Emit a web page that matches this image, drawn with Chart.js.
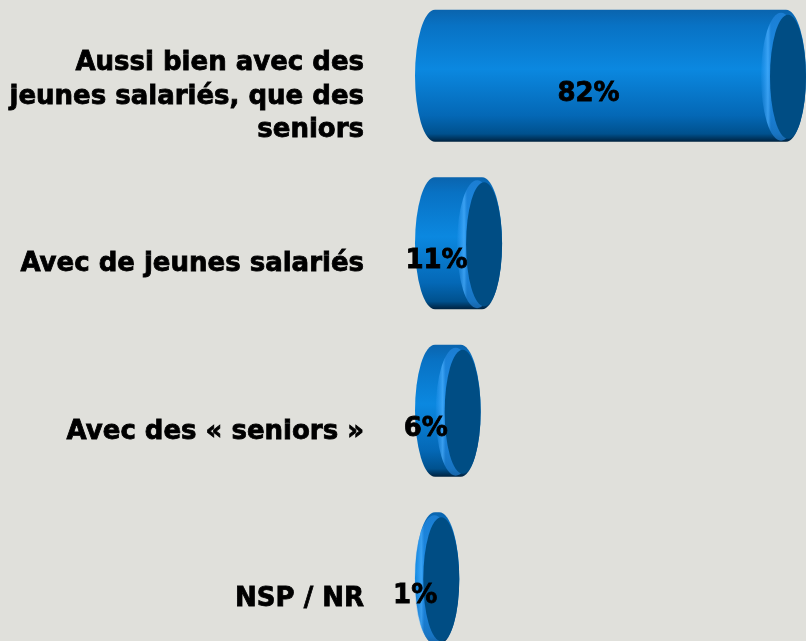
<!DOCTYPE html>
<html lang="fr">
<head>
<meta charset="utf-8">
<title>Recrutement</title>
<script src="https://cdn.jsdelivr.net/npm/chart.js@4"></script>
<style>
  html, body { margin: 0; padding: 0; background: #e0e0db; overflow: hidden; }
  #wrap { position: absolute; left: 0; top: -8px; width: 806px; height: 670px; }
</style>
</head>
<body>
<div id="wrap"><canvas id="chart"></canvas></div>
<script>
const categories = [
    ['Aussi bien avec des', 'jeunes salariés, que des', 'seniors'],
    'Avec de jeunes salariés',
    'Avec des « seniors »',
    'NSP / NR'
];
const values = [82, 11, 6, 1];

const FONT = 'DejaVu Sans';

// draws each bar as a 3D cylinder, using the bar element geometry from the scales
const cylinderPlugin = {
    id: 'cylinders',
    afterDatasetsDraw(chart) {
        const ctx = chart.ctx;
        const meta = chart.getDatasetMeta(0);
        meta.data.forEach((bar, i) => {
            const { x, y, base, height } = bar.getProps(['x', 'y', 'base', 'height']);
            const rx = 20;
            const ry = height / 2;
            const top = y - ry;
            const bottom = y + ry;

            ctx.save();
            const grad = ctx.createLinearGradient(0, top, 0, bottom);
            grad.addColorStop(0, '#0a64ae');
            grad.addColorStop(0.12, '#0872c4');
            grad.addColorStop(0.45, '#0b88e0');
            grad.addColorStop(0.8, '#0468b6');
            grad.addColorStop(0.94, '#00518e');
            grad.addColorStop(1, '#00223f');

            ctx.beginPath();
            ctx.moveTo(base, top);
            ctx.lineTo(x, top);
            ctx.ellipse(x, y, rx, ry, 0, -Math.PI / 2, Math.PI / 2);
            ctx.lineTo(base, bottom);
            ctx.ellipse(base, y, rx, ry, 0, Math.PI / 2, Math.PI * 1.5);
            ctx.closePath();
            ctx.fillStyle = grad;
            ctx.fill();

            // soft light rim just before the end face
            const hx = x - 5;
            const hl = ctx.createLinearGradient(hx - rx, 0, hx - rx + 10, 0);
            hl.addColorStop(0, 'rgba(60,160,250,0.1)');
            hl.addColorStop(0.7, 'rgba(75,175,255,0.75)');
            hl.addColorStop(1, 'rgba(40,140,230,0.6)');
            ctx.beginPath();
            ctx.ellipse(hx, y + 1, rx, ry - 2, 0, 0, Math.PI * 2);
            ctx.fillStyle = hl;
            ctx.fill();

            // end face
            ctx.beginPath();
            ctx.ellipse(x + 2, y + 1, rx - 2, ry - 4, 0, 0, Math.PI * 2);
            ctx.fillStyle = '#004d84';
            ctx.fill();

            ctx.font = 'bold 26px "' + FONT + '"';
            ctx.fillStyle = '#000000';
            ctx.strokeStyle = '#000000';
            ctx.lineWidth = 0.8;
            ctx.textAlign = 'center';
            ctx.textBaseline = 'middle';
            const lx = (base + x) / 2 - 22;
            ctx.strokeText(values[i] + '%', lx, y + 18);
            ctx.fillText(values[i] + '%', lx, y + 18);
            ctx.restore();
        });
    }
};

new Chart(document.getElementById('chart'), {
    type: 'bar',
    data: {
        labels: categories,
        datasets: [{
            data: values,
            backgroundColor: 'rgba(0,0,0,0)',
            borderWidth: 0,
            categoryPercentage: 1,
            barPercentage: 0.788
        }]
    },
    options: {
        indexAxis: 'y',
        responsive: true,
        maintainAspectRatio: false,
        animation: false,
        layout: { padding: { left: 0, right: 20, top: 0, bottom: 0 } },
        plugins: {
            legend: { display: false },
            tooltip: { enabled: false }
        },
        scales: {
            x: {
                display: false,
                min: 0,
                max: 82
            },
            y: {
                grid: { display: false },
                border: { display: false },
                afterFit(scale) {
                    scale.width = 435;
                    scale.paddingTop = 0;
                    scale.paddingBottom = 0;
                },
                ticks: {
                    color: '#000000',
                    padding: 63,
                    labelOffset: 21,
                    textStrokeColor: '#000000',
                    textStrokeWidth: 0.8,
                    font: { family: FONT, size: 26, weight: 'bold', lineHeight: 1.3 }
                }
            }
        }
    },
    plugins: [cylinderPlugin]
});
</script>
</body>
</html>
